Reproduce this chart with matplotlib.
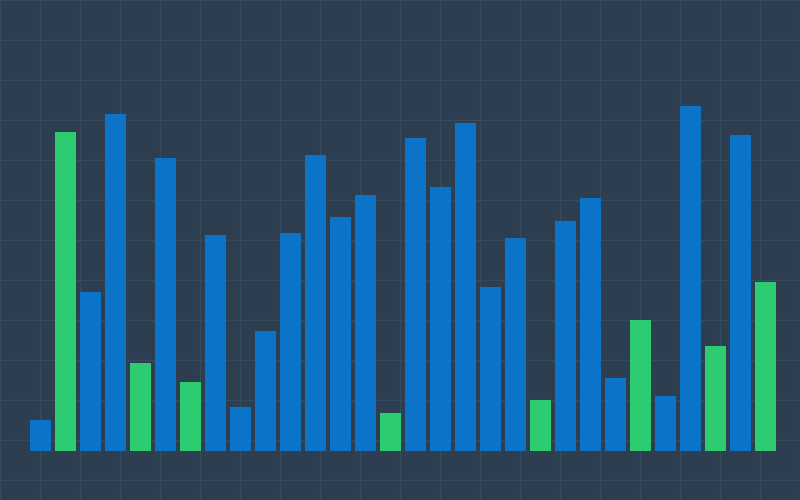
import matplotlib
matplotlib.use("Agg")
import numpy as np
import matplotlib.pyplot as plt

# Valores (altura das barras)
values = [31, 319, 159, 337, 88, 293, 69, 216, 44, 120,
          218, 296, 234, 256, 38, 313, 264, 328, 164, 213,
          51, 230, 253, 73, 131, 55, 345, 105, 316, 169]
# g = verde, b = azul
groups = ["b", "g", "b", "b", "g", "b", "g", "b", "b", "b",
          "b", "b", "b", "b", "g", "b", "b", "b", "b", "b",
          "g", "b", "b", "b", "g", "b", "b", "g", "b", "g"]

bg = "#2c3e50"
grid_color = "#354b5f"
colors = {"b": "#0b74c9", "g": "#2ecc71"}

fig = plt.figure(figsize=(8, 5), dpi=100)
fig.patch.set_facecolor(bg)

# Fundo com grade quadriculada
ax_bg = fig.add_axes([0, 0, 1, 1])
ax_bg.set_facecolor(bg)
ax_bg.set_xlim(0, 800)
ax_bg.set_ylim(500, 0)
ax_bg.set_xticks(np.arange(0, 801, 40))
ax_bg.set_yticks(np.arange(0, 501, 40))
ax_bg.grid(True, color=grid_color, linewidth=1)
ax_bg.tick_params(length=0, labelbottom=False, labelleft=False)
for s in ax_bg.spines.values():
    s.set_visible(False)

# Barras
ax = fig.add_axes([0, 0, 1, 1])
ax.patch.set_alpha(0)
x = np.arange(len(values))
ax.bar(x, values, width=0.84, color=[colors[g] for g in groups])
ax.set_xlim(-1.62, 30.38)
ax.set_ylim(-49, 451)
ax.axis("off")

fig.savefig("out.png", dpi=100, facecolor=bg)
